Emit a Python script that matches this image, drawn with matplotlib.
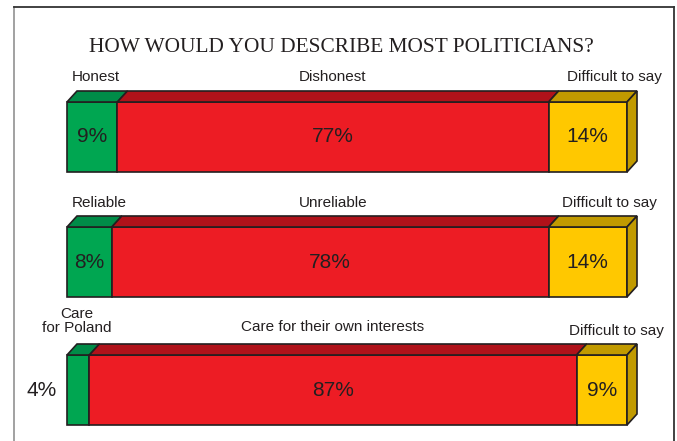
import matplotlib.pyplot as plt
from matplotlib.patches import Polygon

# survey answers, one row per question
title = "HOW WOULD YOU DESCRIBE MOST POLITICIANS?"
positive_labels = ["Honest", "Reliable", "Care\nfor Poland"]
negative_labels = ["Dishonest", "Unreliable", "Care for their own interests"]
unsure_label = "Difficult to say"
positive = [9, 8, 4]
negative = [77, 78, 87]
unsure = [14, 14, 9]

front_colors = ["#00a651", "#ed1c24", "#ffc800"]
top_colors = ["#008c48", "#b0121a", "#c19a00"]
edge = "#231f20"
ink = "#231f20"

W, H = 677, 441
X0, PX = 67, 5.6          # left edge of bars (px) and px per percent
DX, DY = 10 / PX, 11      # depth of the 3d faces
BAR_H = 70
row_tops = [102, 227, 355]

# where the labels above each bar sit (px)
pos_label_x = [96, 99, 77]
pos_label_y = [77, 203, 321]
neg_label_y = [77, 203, 327]
unsure_right = [662, 657, 664]
unsure_y = [77, 203, 331]


def px(x):
    return (x - X0) / PX


fig = plt.figure(figsize=(W / 100, H / 100), dpi=100)
ax = fig.add_axes([0, 0, 1, 1])
ax.set_xlim(px(0), px(W))
ax.set_ylim(H, 0)
ax.axis("off")

# frame
ax.plot([px(14)] * 2, [H + 5, 7], color="#9a9a9a", lw=1.3)
ax.plot([px(14), px(674)], [7, 7], color="#333333", lw=1.3)
ax.plot([px(674)] * 2, [7, H + 5], color="#333333", lw=1.3)

ax.text(px(341), 47, title, fontsize=15.4, family="Liberation Serif",
        ha="center", va="center", color=ink)

sans = "Liberation Sans"
for i in range(3):
    top = row_tops[i]
    bot = top + BAR_H
    vals = [positive[i], negative[i], unsure[i]]
    left = 0
    for j, v in enumerate(vals):
        right = left + v
        ax.add_patch(Polygon([(left, top), (right, top), (right, bot), (left, bot)],
                             closed=True, fc=front_colors[j], ec=edge, lw=1.2, zorder=2))
        ax.add_patch(Polygon([(left, top), (left + DX, top - DY), (right + DX, top - DY), (right, top)],
                             closed=True, fc=top_colors[j], ec=edge, lw=1.2, zorder=2))
        if j == 2:
            ax.add_patch(Polygon([(right, top), (right + DX, top - DY), (right + DX, bot - DY), (right, bot)],
                                 closed=True, fc=top_colors[j], ec=edge, lw=1.2, zorder=2))
        label = f"{v}%"
        # too narrow segments get their value written to the left
        if v * PX < 30:
            ax.text(left - 25 / PX, (top + bot) / 2, label, fontsize=15, family=sans,
                    ha="center", va="center", color=ink)
        else:
            ax.text((left + right) / 2, (top + bot) / 2, label, fontsize=15, family=sans,
                    ha="center", va="center", color=ink)
        left = right

    ax.text(px(pos_label_x[i]), pos_label_y[i], positive_labels[i], fontsize=11,
            family=sans, ha="center", va="center", color=ink, linespacing=1.05)
    ax.text(px(333), neg_label_y[i], negative_labels[i], fontsize=11,
            family=sans, ha="center", va="center", color=ink)
    ax.text(px(unsure_right[i]), unsure_y[i], unsure_label, fontsize=11,
            family=sans, ha="right", va="center", color=ink)

fig.savefig("out.png", dpi=100)
